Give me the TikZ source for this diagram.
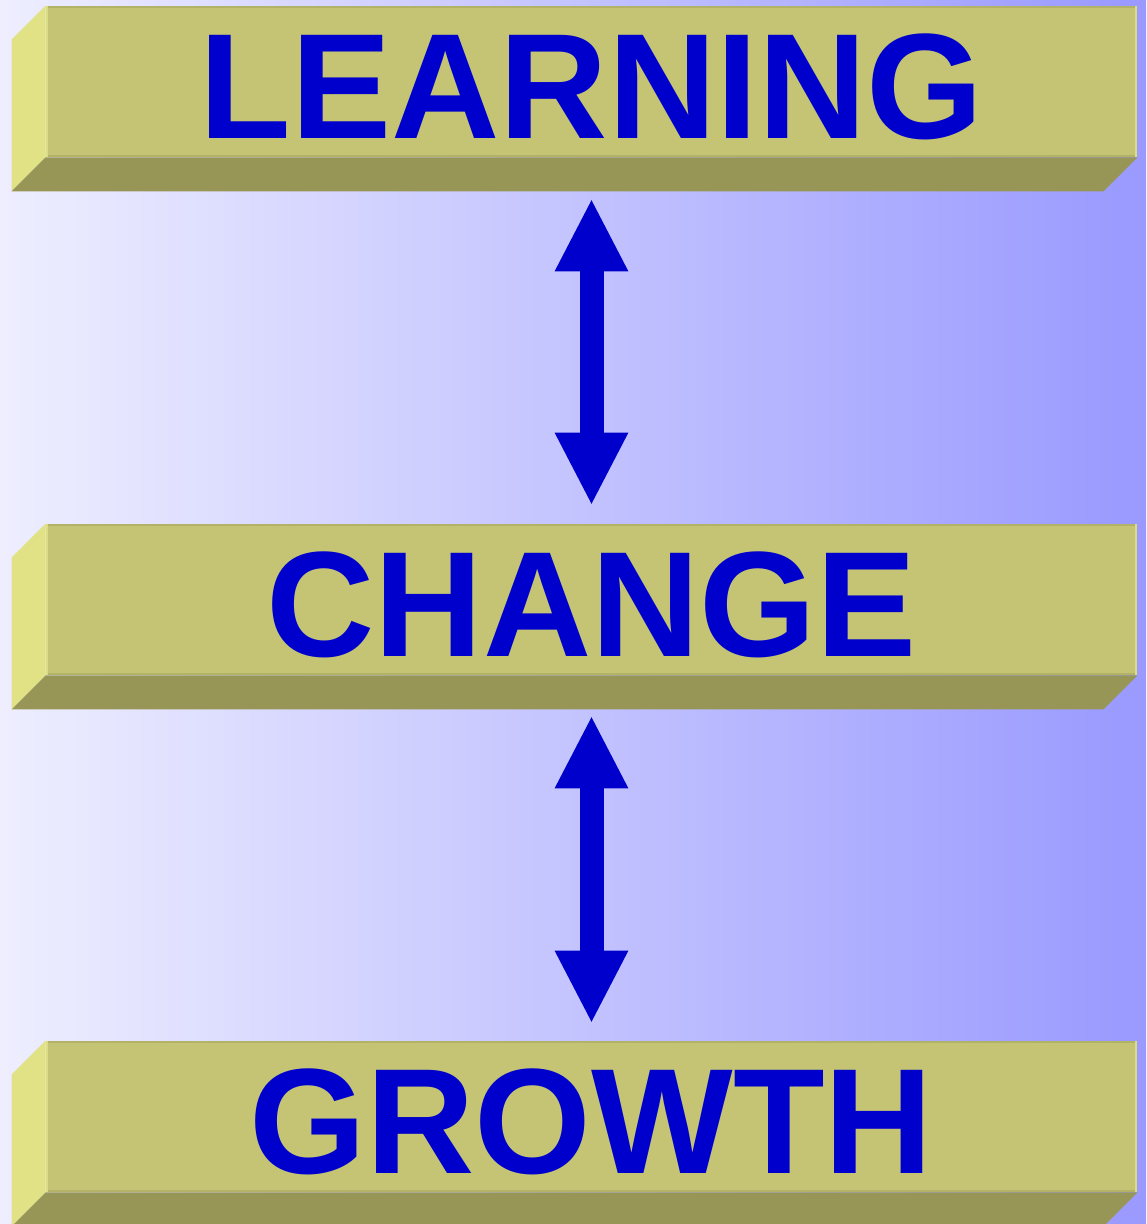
\documentclass[tikz,border=0pt]{standalone}
\usepackage{fontspec}
\setmainfont{Liberation Sans}
\usetikzlibrary{arrows.meta}
\definecolor{bgleft}{HTML}{EEEEFF}
\definecolor{bgright}{HTML}{9999FF}
\definecolor{slabfront}{HTML}{C4C474}
\definecolor{slabside}{HTML}{E1E186}
\definecolor{slabbottom}{HTML}{989657}
\definecolor{slabedge}{HTML}{B3B367}
\definecolor{slabshine}{HTML}{DCDC82}
\definecolor{wordblue}{HTML}{0000CC}
\tikzset{
	slab/.style={rectangle,fill=slabfront,inner sep=0pt,minimum width=545.5pt,minimum height=75.5pt,
		text=wordblue,font=\fontsize{75}{75}\selectfont\bfseries,text height=57pt,text depth=0pt},
	sideface/.style={fill=slabside},
	bottomface/.style={fill=slabbottom},
	twoway/.style={draw=wordblue,line width=12pt,{Triangle[length=36.5pt,width=34pt]}-{Triangle[length=36.5pt,width=34pt]}}
}

\begin{document}
\begin{tikzpicture}[x=0.5pt,y=-0.5pt]
	\useasboundingbox (0,0) rectangle (1146,1224);
	\shade[left color=bgleft,right color=bgright] (0,0) rectangle (1146,1224);

	\node [slab] (learning) at (591.5,81.5) {LEARNING};
	\node [slab] (change) at (591.5,599.5) {CHANGE};
	\node [slab] (growth) at (591.5,1116.5) {GROWTH};

	\foreach \s in {learning,change,growth}{
		\fill [sideface] (\s.north west) -- ++(-34,34) -- ([shift={(-34,34)}]\s.south west) -- (\s.south west) -- cycle;
		\fill [bottomface] (\s.south west) -- ++(-34,34) -- ([shift={(-34,34)}]\s.south east) -- (\s.south east) -- cycle;
		\draw [slabedge,line width=1pt] ([yshift=-0.5pt]\s.north west) -- ([yshift=-0.5pt]\s.north east);
		\draw [slabedge,line width=1pt] ([yshift=0.5pt]\s.south west) -- ([yshift=0.5pt]\s.south east);
		\draw [slabshine,line width=1pt] ([xshift=-0.5pt]\s.north east) -- ([xshift=-0.5pt]\s.south east);
		\draw [slabshine,line width=1pt] ([xshift=0.5pt]\s.north west) -- ([xshift=0.5pt]\s.south west);
	}

	\draw [twoway,shorten <=20.5pt,shorten >=9pt] (learning.south) -- (change.north);
	\draw [twoway,shorten <=20pt,shorten >=8.5pt] (change.south) -- (growth.north);
\end{tikzpicture}
\end{document}
